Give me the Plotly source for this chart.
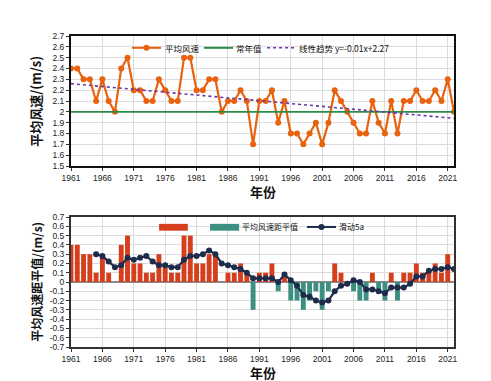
import plotly.graph_objects as go
from plotly.subplots import make_subplots

# ---------------- data ----------------
years = list(range(1961, 2023))
wind_speed = [2.4, 2.4, 2.3, 2.3, 2.1, 2.3, 2.1, 2.0, 2.4, 2.5,
              2.2, 2.2, 2.1, 2.1, 2.3, 2.2, 2.1, 2.1, 2.5, 2.5,
              2.2, 2.2, 2.3, 2.3, 2.0, 2.1, 2.1, 2.2, 2.1, 1.7,
              2.1, 2.1, 2.2, 1.9, 2.1, 1.8, 1.8, 1.7, 1.8, 1.9,
              1.7, 1.9, 2.2, 2.1, 2.0, 1.9, 1.8, 1.8, 2.1, 1.9,
              1.8, 2.1, 1.8, 2.1, 2.1, 2.2, 2.1, 2.1, 2.2, 2.1,
              2.3, 2.0]
normal_value = [2.0, 2.0]
normal_years = [1961, 2022]
trend_years = [1961, 2022]
trend_values = [2.26, 1.94]

anomaly = [0.4, 0.4, 0.3, 0.3, 0.1, 0.3, 0.1, 0.0, 0.4, 0.5,
           0.2, 0.2, 0.1, 0.1, 0.3, 0.2, 0.1, 0.1, 0.5, 0.5,
           0.2, 0.2, 0.3, 0.3, 0.0, 0.1, 0.1, 0.2, 0.1, -0.3,
           0.1, 0.1, 0.2, -0.1, 0.1, -0.2, -0.2, -0.3, -0.2, -0.1,
           -0.3, -0.1, 0.2, 0.1, 0.0, -0.1, -0.2, -0.2, 0.1, -0.1,
           -0.2, 0.1, -0.2, 0.1, 0.1, 0.2, 0.1, 0.1, 0.2, 0.1,
           0.3, 0.0]
ma_years = list(range(1965, 2023))
moving_avg_5a = [0.30, 0.28, 0.22, 0.16, 0.18, 0.26, 0.24, 0.26, 0.28, 0.22,
                 0.18, 0.18, 0.16, 0.16, 0.24, 0.28, 0.28, 0.30, 0.34, 0.30,
                 0.20, 0.18, 0.16, 0.14, 0.10, 0.04, 0.04, 0.04, 0.04, 0.00,
                 0.08, 0.02, -0.04, -0.14, -0.16, -0.20, -0.22, -0.20, -0.10, -0.04,
                 -0.02, 0.02, 0.00, -0.08, -0.08, -0.10, -0.12, -0.06, -0.06, -0.06,
                 -0.02, 0.06, 0.06, 0.12, 0.14, 0.14, 0.16, 0.14]

x_ticks = [1961, 1966, 1971, 1976, 1981, 1986, 1991, 1996, 2001, 2006, 2011, 2016, 2021]
top_yticks = [1.5, 1.6, 1.7, 1.8, 1.9, 2.0, 2.1, 2.2, 2.3, 2.4, 2.5, 2.6, 2.7]
top_ylabels = ["1.5", "1.6", "1.7", "1.8", "1.9", "2", "2.1", "2.2", "2.3", "2.4", "2.5", "2.6", "2.7"]
bot_yticks = [0.7, 0.6, 0.5, 0.4, 0.3, 0.2, 0.1, 0.0, -0.1, -0.2, -0.3, -0.4, -0.5, -0.6, -0.7]
bot_ylabels = ["0.7", "0.6", "0.5", "0.4", "0.3", "0.2", "0.1", "0", "-0.1", "-0.2", "-0.3",
               "-0.4", "-0.5", "-0.6", "-0.7"]

# ---------------- styles ----------------
ORANGE = "#E8620F"
GREEN = "#2E8B45"
PURPLE = "#6A35A8"
RED = "#D53F1E"
TEAL = "#3D8F82"
NAVY = "#1E2B4B"
FONT = "Liberation Sans, Arial, sans-serif"
CJK = "Noto Sans CJK SC, sans-serif"

pos_vals = [v if v > 0 else None for v in anomaly]
neg_vals = [v if v < 0 else None for v in anomaly]

fig = make_subplots(rows=2, cols=1, vertical_spacing=0.164)

fig.add_trace(go.Scatter(x=years, y=wind_speed, mode="lines+markers",
                         line=dict(color=ORANGE, width=2.2),
                         marker=dict(color=ORANGE, size=6), name="平均风速",
                         showlegend=False), row=1, col=1)
fig.add_trace(go.Scatter(x=normal_years, y=normal_value, mode="lines",
                         line=dict(color=GREEN, width=1.6), name="常年值",
                         showlegend=False), row=1, col=1)
fig.add_trace(go.Scatter(x=trend_years, y=trend_values, mode="lines",
                         line=dict(color=PURPLE, width=1.6, dash="dot"),
                         name="线性趋势", showlegend=False), row=1, col=1)

fig.add_trace(go.Bar(x=years, y=pos_vals, marker=dict(color=RED, line=dict(width=0)),
                     width=0.78, showlegend=False), row=2, col=1)
fig.add_trace(go.Bar(x=years, y=neg_vals, marker=dict(color=TEAL, line=dict(width=0)),
                     width=0.78, showlegend=False), row=2, col=1)
fig.add_trace(go.Scatter(x=ma_years, y=moving_avg_5a, mode="lines+markers",
                         line=dict(color=NAVY, width=2.2),
                         marker=dict(color=NAVY, size=6), name="滑动5a",
                         showlegend=False), row=2, col=1)

xaxis_common = dict(range=[1961, 2022], tickvals=x_ticks, ticks="outside", ticklen=3,
                    tickcolor="#333", showline=True, linewidth=2,
                    mirror=True, showgrid=True, gridcolor="#DCDCDC", gridwidth=1,
                    zeroline=False, tickfont=dict(family=FONT, size=8.5, color="#222"))
fig.update_xaxes(**xaxis_common, linecolor="#111", row=1, col=1)
fig.update_xaxes(**xaxis_common, linecolor="#333", row=2, col=1)

yaxis_common = dict(ticks="outside", ticklen=3, tickcolor="#333", showline=True,
                    linewidth=2, mirror=True, showgrid=True,
                    gridcolor="#DCDCDC", gridwidth=1,
                    tickfont=dict(family=FONT, size=8.5, color="#222"))
fig.update_yaxes(**yaxis_common, range=[1.5, 2.7], tickvals=top_yticks, linecolor="#111",
                 ticktext=top_ylabels, zeroline=False, row=1, col=1)
fig.update_yaxes(**yaxis_common, range=[-0.7, 0.7], tickvals=bot_yticks, linecolor="#333",
                 ticktext=bot_ylabels, zeroline=True, zerolinecolor="#8C8C8C",
                 zerolinewidth=2, row=2, col=1)

# ---------------- manual legends & titles ----------------
shapes = []
annotations = []


def line_item(x0, x1, y, color, dash="solid", marker=False):
    shapes.append(dict(type="line", xref="paper", yref="paper", x0=x0, x1=x1, y0=y, y1=y,
                       line=dict(color=color, width=2 if dash == "solid" else 1.6, dash=dash)))
    if marker:
        xm = (x0 + x1) / 2
        shapes.append(dict(type="circle", xref="paper", yref="paper",
                           x0=xm - 0.008, x1=xm + 0.008, y0=y - 0.0098, y1=y + 0.0098,
                           fillcolor=color, line=dict(color=color, width=0)))


def text_item(x, y, txt, size=8.5):
    annotations.append(dict(xref="paper", yref="paper", x=x, y=y, text=txt, showarrow=False,
                            xanchor="left", yanchor="middle",
                            font=dict(family=CJK, size=size, color="#111")))


ly1 = 0.962
line_item(0.159, 0.235, ly1, ORANGE, marker=True)
text_item(0.240, ly1, "平均风速")
line_item(0.347, 0.423, ly1, GREEN)
text_item(0.425, ly1, "常年值")
line_item(0.512, 0.587, ly1, PURPLE, dash="dot")
text_item(0.590, ly1, "线性趋势 y=-0.01x+2.27")

ly2 = 0.386
shapes.append(dict(type="rect", xref="paper", yref="paper", x0=0.230, x1=0.305,
                   y0=0.374, y1=0.396, fillcolor=RED, line=dict(width=0)))
shapes.append(dict(type="rect", xref="paper", yref="paper", x0=0.363, x1=0.439,
                   y0=0.374, y1=0.396, fillcolor=TEAL, line=dict(width=0)))
text_item(0.440, ly2, "平均风速距平值", size=8)
line_item(0.616, 0.692, ly2, NAVY, marker=True)
text_item(0.694, ly2, "滑动5a", size=8)

# axis titles
annotations.append(dict(xref="paper", yref="paper", x=-0.092, y=0.582 + 0.418 / 2,
                        text="平均风速/(m/s)", textangle=-90, showarrow=False,
                        xanchor="center", yanchor="middle",
                        font=dict(family=CJK, size=13, color="#111", weight="bold")))
annotations.append(dict(xref="paper", yref="paper", x=-0.092, y=0.209,
                        text="平均风速距平值/(m/s)", textangle=-90, showarrow=False,
                        xanchor="center", yanchor="middle",
                        font=dict(family=CJK, size=12, color="#111", weight="bold")))
annotations.append(dict(xref="paper", yref="paper", x=0.5, y=(339 - 183) / 311, text="年份",
                        showarrow=False, xanchor="center", yanchor="middle",
                        font=dict(family=CJK, size=13, color="#111", weight="bold")))
annotations.append(dict(xref="paper", yref="paper", x=0.5, y=(339 - 364) / 311, text="年份",
                        showarrow=False, xanchor="center", yanchor="middle",
                        font=dict(family=CJK, size=13, color="#111", weight="bold")))

fig.update_layout(width=491, height=381, margin=dict(l=63, r=45, t=28, b=42),
                  paper_bgcolor="white", plot_bgcolor="white", barmode="overlay",
                  shapes=shapes, annotations=annotations, showlegend=False)

fig.write_html("out.html")
